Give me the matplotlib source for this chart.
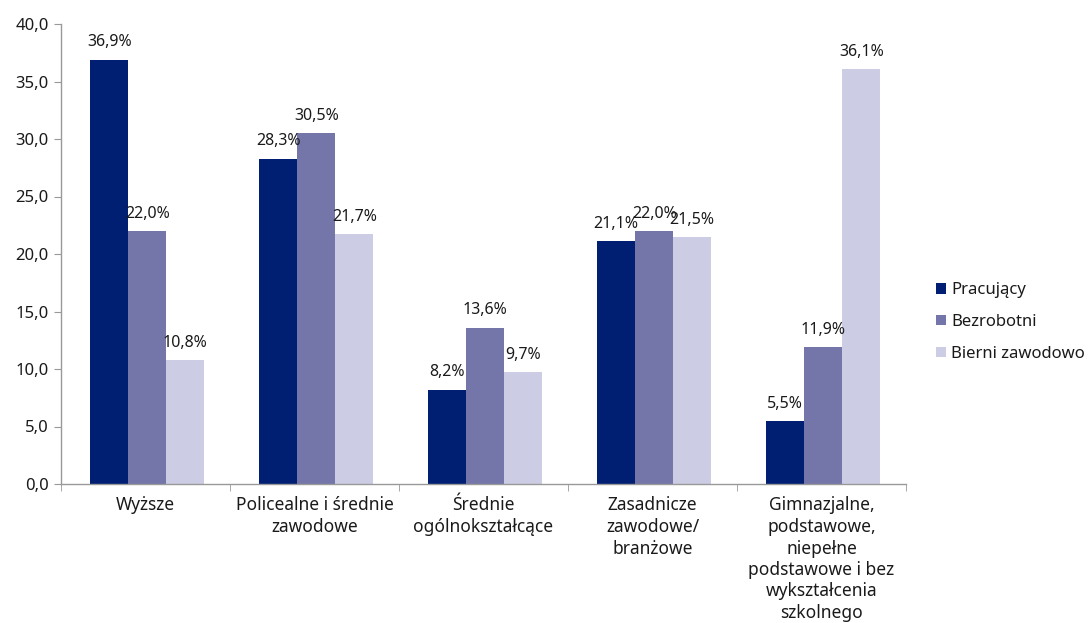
import matplotlib
matplotlib.use("Agg")
import matplotlib.pyplot as plt
import numpy as np

categories = ["Wyższe", "Policealne i średnie\nzawodowe", "Średnie\nogólnokształcące",
              "Zasadnicze\nzawodowe/\nbranżowe",
              "Gimnazjalne,\npodstawowe,\nniepełne\npodstawowe i bez\nwykształcenia\nszkolnego"]
series_names = ["Pracujący", "Bezrobotni", "Bierni zawodowo"]
pracujacy = [36.9, 28.3, 8.2, 21.1, 5.5]
bezrobotni = [22.0, 30.5, 13.6, 22.0, 11.9]
bierni = [10.8, 21.7, 9.7, 21.5, 36.1]
yticks = [0, 5, 10, 15, 20, 25, 30, 35, 40]

colors = ["#001E72", "#7475A9", "#CCCCE4"]
plt.rcParams['font.family'] = ['Noto Sans', 'DejaVu Sans']
txt = "#1a1a1a"

fig = plt.figure(figsize=(10.89, 6.23), dpi=100)
ax = fig.add_axes([61/1089, 1-484/623, (906-61)/1089, (484-24)/623])

x = np.arange(len(categories))
w = 0.225
data = [pracujacy, bezrobotni, bierni]
for i, (vals, name, c) in enumerate(zip(data, series_names, colors)):
    pos = x + (i - 1) * w + 0.01
    ax.bar(pos, vals, width=w, color=c, label=name, zorder=2)
    for xp, v in zip(pos, vals):
        ax.text(xp, v + 0.8, f"{v:.1f}%".replace(".", ","), ha="center", va="bottom",
                fontsize=11.5, color=txt)

ax.set_xlim(-0.5, len(categories) - 0.5)
ax.set_ylim(0, 40)
ax.set_yticks(yticks)
ax.set_yticklabels([f"{t:.1f}".replace(".", ",") for t in yticks], fontsize=12, color=txt)
ax.set_xticks(x)
ax.set_xticklabels(categories, fontsize=12.5, color=txt, linespacing=1.25)
ax.set_xticks(np.arange(-0.5, len(categories)), minor=True)
ax.tick_params(axis="x", which="major", length=0, pad=9)
ax.tick_params(axis="x", which="minor", length=5, color="#999999", direction="out")
ax.tick_params(axis="y", length=5, color="#999999", direction="out", pad=4)
for s in ["top", "right"]:
    ax.spines[s].set_visible(False)
for s in ["left", "bottom"]:
    ax.spines[s].set_color("#999999")
    ax.spines[s].set_linewidth(1.0)

leg = fig.legend(loc="center left", bbox_to_anchor=(921/1089, 1-322/623), frameon=False,
                 fontsize=12, handlelength=0.6, handleheight=0.6, handletextpad=0.3,
                 labelspacing=0.95)
for t in leg.get_texts():
    t.set_color(txt)
fig.savefig("out.png", dpi=100)
